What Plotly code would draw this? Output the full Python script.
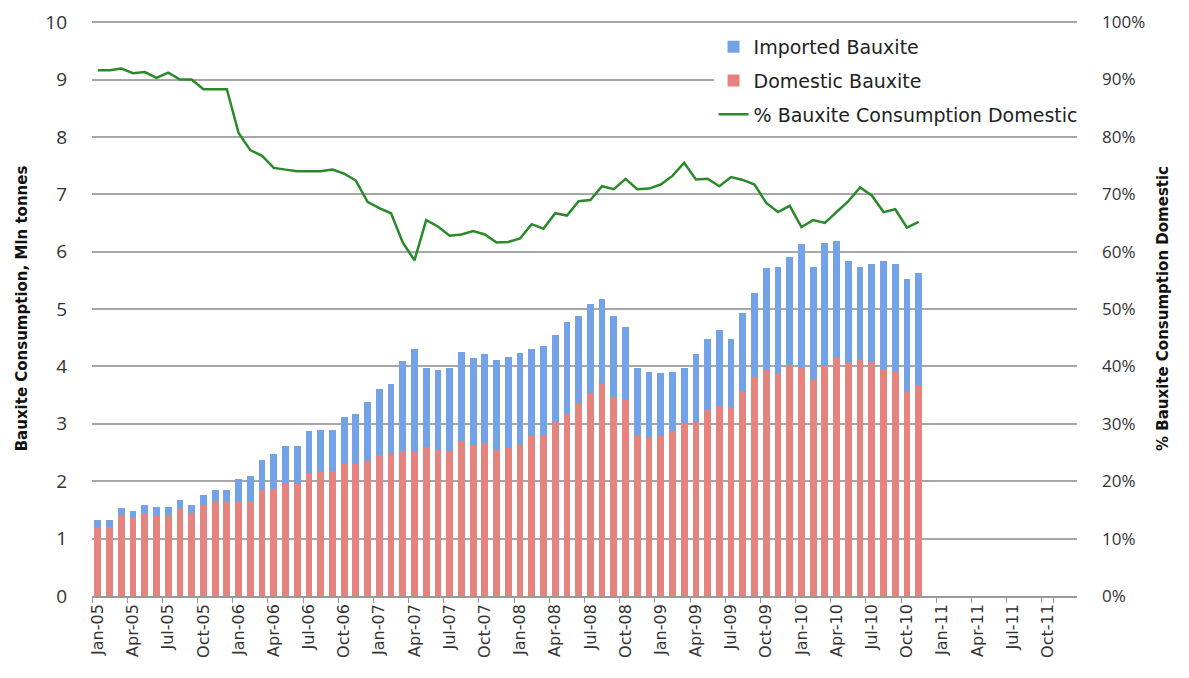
import plotly.graph_objects as go

# months shown on the category axis (Jan-05 .. Dec-11)
years = ["05", "06", "07", "08", "09", "10", "11"]
mon = ["Jan", "Feb", "Mar", "Apr", "May", "Jun", "Jul", "Aug", "Sep", "Oct", "Nov", "Dec"]
months = [f"{m}-{y}" for y in years for m in mon]

# bauxite consumption, Mln tonnes (Jan-05 .. Nov-10)
domestic = [1.21, 1.21, 1.42, 1.36, 1.45, 1.42, 1.42, 1.51, 1.45, 1.59, 1.65, 1.65,
            1.65, 1.65, 1.84, 1.87, 1.95, 1.96, 2.14, 2.16, 2.17, 2.30, 2.30, 2.35,
            2.45, 2.49, 2.53, 2.51, 2.60, 2.55, 2.53, 2.70, 2.64, 2.67, 2.55, 2.58,
            2.64, 2.78, 2.81, 3.04, 3.18, 3.37, 3.53, 3.71, 3.47, 3.41, 2.81, 2.77,
            2.79, 2.87, 3.01, 3.04, 3.24, 3.31, 3.29, 3.58, 3.81, 3.94, 3.88, 4.03,
            3.98, 3.78, 4.01, 4.16, 4.07, 4.11, 4.07, 3.93, 3.91, 3.56, 3.67]
imported = [0.11, 0.12, 0.11, 0.12, 0.13, 0.13, 0.13, 0.16, 0.14, 0.17, 0.19, 0.19,
            0.39, 0.44, 0.53, 0.60, 0.67, 0.66, 0.73, 0.74, 0.73, 0.82, 0.88, 1.03,
            1.16, 1.21, 1.57, 1.79, 1.38, 1.39, 1.45, 1.56, 1.50, 1.54, 1.56, 1.59,
            1.59, 1.52, 1.55, 1.50, 1.59, 1.51, 1.55, 1.46, 1.41, 1.28, 1.16, 1.13,
            1.09, 1.03, 0.96, 1.17, 1.24, 1.32, 1.19, 1.35, 1.47, 1.77, 1.86, 1.87,
            2.15, 1.96, 2.14, 2.03, 1.77, 1.63, 1.71, 1.91, 1.87, 1.97, 1.96]
# share of consumption that is domestic, %
pct_domestic = [91.6, 91.6, 91.9, 91.1, 91.3, 90.3, 91.2, 90.0, 90.0, 88.3, 88.3, 88.3,
                80.7, 77.7, 76.7, 74.6, 74.3, 74.0, 74.0, 74.0, 74.3, 73.6, 72.4, 68.7,
                67.6, 66.7, 61.6, 58.5, 65.5, 64.4, 62.8, 63.0, 63.6, 63.0, 61.6, 61.7,
                62.3, 64.8, 64.0, 66.7, 66.3, 68.8, 69.0, 71.4, 70.9, 72.7, 70.9, 71.0,
                71.7, 73.2, 75.5, 72.6, 72.7, 71.4, 73.0, 72.5, 71.7, 68.5, 66.9, 68.0,
                64.3, 65.5, 65.0, 66.9, 68.8, 71.2, 69.8, 66.9, 67.4, 64.2, 65.2]

left_ticks = list(range(0, 11))
right_ticks = list(range(0, 101, 10))

x = months[:len(domestic)]

fig = go.Figure()
fig.add_trace(go.Bar(x=x, y=domestic, name="Domestic Bauxite", marker_color="#e5847f",
                     marker_line_width=0, legendrank=2, legendgroup="b"))
fig.add_trace(go.Bar(x=x, y=imported, name="Imported Bauxite", marker_color="#74a2e6",
                     marker_line_width=0, legendrank=1, legendgroup="a"))
fig.add_trace(go.Scatter(x=x, y=pct_domestic, name="% Bauxite Consumption Domestic",
                         mode="lines", line=dict(color="#2a8a2a", width=2.5),
                         yaxis="y2", legendrank=3, legendgroup="c"))

# the page body adds an 8px offset, so the figure is a bit smaller than the window
fig.update_layout(
    width=1181, height=670,
    paper_bgcolor="white", plot_bgcolor="white",
    barmode="stack", bargap=0.42,
    margin=dict(l=84, r=112, t=13, b=82),
    font=dict(family="Open Sans", color="#333333"),
    legend=dict(x=0.631, y=0.988, xanchor="left", yanchor="top",
                bgcolor="white", font=dict(size=19, family="DejaVu Sans", color="#222"),
                tracegroupgap=6),
    xaxis=dict(type="category", categoryorder="array", categoryarray=months,
               range=[-0.5, len(months) - 0.5], automargin=False,
               tickmode="array", tickvals=months[::3], tickson="boundaries",
               tickangle=-90, ticks="outside", ticklen=5, tickcolor="#999",
               tickfont=dict(size=16, family="DejaVu Sans"),
               showline=True, linecolor="#999", linewidth=1.5, showgrid=False),
    yaxis=dict(range=[0, 10.02], tickmode="array", tickvals=left_ticks,
               ticktext=[str(v) for v in left_ticks], showgrid=True,
               gridcolor="#a6a6a6", gridwidth=1.5,
               zeroline=False, tickfont=dict(size=19), ticklabelstandoff=24,
               ticklabeloverflow="allow", automargin=False,
               title=dict(text="<b>Bauxite Consumption, Mln tonnes</b>",
                          font=dict(size=15, family="DejaVu Sans", color="#111"), standoff=14)),
    yaxis2=dict(range=[0, 100.2], tickmode="array", tickvals=right_ticks,
                ticktext=[f"{v}%" for v in right_ticks],
                overlaying="y", side="right",
                showgrid=False, zeroline=False, tickfont=dict(size=17),
                ticklabelstandoff=24, ticklabeloverflow="allow", automargin=False,
                title=dict(text="<b>% Bauxite Consumption Domestic</b>",
                           font=dict(size=15, family="DejaVu Sans", color="#111"), standoff=13)),
)

fig.write_html("out.html")
